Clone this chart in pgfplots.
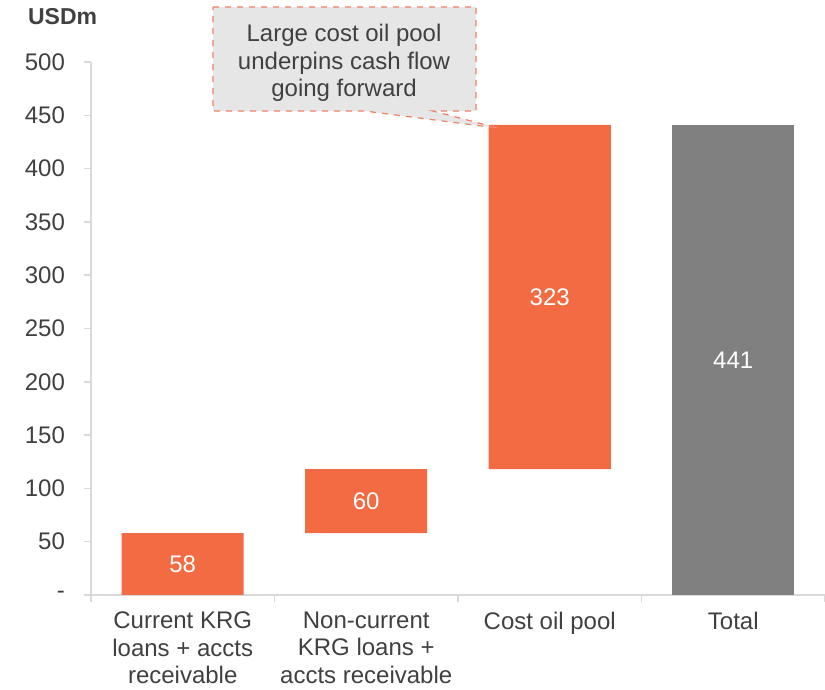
\documentclass[border=0pt]{standalone}
\usepackage{pgfplots}
\pgfplotsset{compat=1.18}
\usepackage{fontspec}
\setmainfont{Liberation Sans}
\definecolor{barorange}{RGB}{242,107,67}
\definecolor{bargray}{RGB}{128,128,128}
\definecolor{txt}{RGB}{64,64,64}
\definecolor{axgray}{RGB}{217,217,217}
\definecolor{callfill}{RGB}{230,230,230}
\definecolor{calldash}{RGB}{240,128,100}
\begin{document}
\begin{tikzpicture}[font=\fontsize{12}{14}\selectfont]
\path[use as bounding box] (-45.5pt,-47.5pt) rectangle (367pt,297.5pt);
\node[anchor=base west, text=txt, font=\fontsize{11.5}{14}\selectfont\bfseries] at (-35pt,285pt) {USDm};
\begin{axis}[
  at={(0,0)}, anchor=south west,
  scale only axis, width=367pt, height=266.5pt,
  xmin=-0.5, xmax=3.5, ymin=0, ymax=500,
  ybar stacked, bar width=61pt,
  axis lines=left, axis line style={-, draw=axgray, line width=0.8pt},
  tick align=outside, major tick length=3.5pt,
  tick style={draw=axgray, line width=0.8pt},
  xtick={-0.5,0.5,1.5,2.5,3.5}, xticklabels={},
  extra x ticks={0,1,2,3},
  extra x tick labels={{Current KRG\\loans + accts\\receivable},{Non-current\\KRG loans +\\accts receivable},{Cost oil pool},{Total}},
  extra x tick style={major tick length=0pt, tick style={draw=none}},
  xticklabel style={align=center, text=txt, font=\fontsize{12}{13.7}\selectfont, yshift=-5pt},
  ytick={0,50,...,500},
  yticklabels={-,50,100,150,200,250,300,350,400,450,500},
  yticklabel style={text=txt, font=\fontsize{12}{14}\selectfont, xshift=-6pt},
  clip=false,
]
\addplot[draw=none, fill=none] coordinates {(0,0) (1,58) (2,118) (3,0)};
\addplot[draw=none, fill=barorange] coordinates {(0,58) (1,60) (2,323) (3,0)};
\addplot[draw=none, fill=bargray] coordinates {(0,0) (1,0) (2,0) (3,441)};
\end{axis}
\begin{axis}[
  at={(0,0)}, anchor=south west,
  scale only axis, width=367pt, height=266.5pt,
  xmin=-0.5, xmax=3.5, ymin=0, ymax=500,
  hide axis, clip=false,
]
\draw[calldash, dashed, line width=0.6pt, fill=callfill]
  (axis cs:0.165,551.6) -- (axis cs:1.598,551.6) -- (axis cs:1.598,454) --
  (axis cs:1.364,454) -- (axis cs:1.718,438) -- (axis cs:0.993,454) --
  (axis cs:0.165,454) -- cycle;
\node[align=center, text=txt, font=\fontsize{12}{13.75}\selectfont] at (axis cs:0.879,499) {Large cost oil pool\\underpins cash flow\\going forward};
\addplot[draw=none, mark=none, nodes near coords, point meta=explicit symbolic,
  every node near coord/.append style={anchor=center, text=white, font=\fontsize{12}{14}\selectfont}]
  coordinates {(0,29) [58] (1,88) [60] (2,279.5) [323] (3,220.5) [441]};
\end{axis}
\end{tikzpicture}
\end{document}
